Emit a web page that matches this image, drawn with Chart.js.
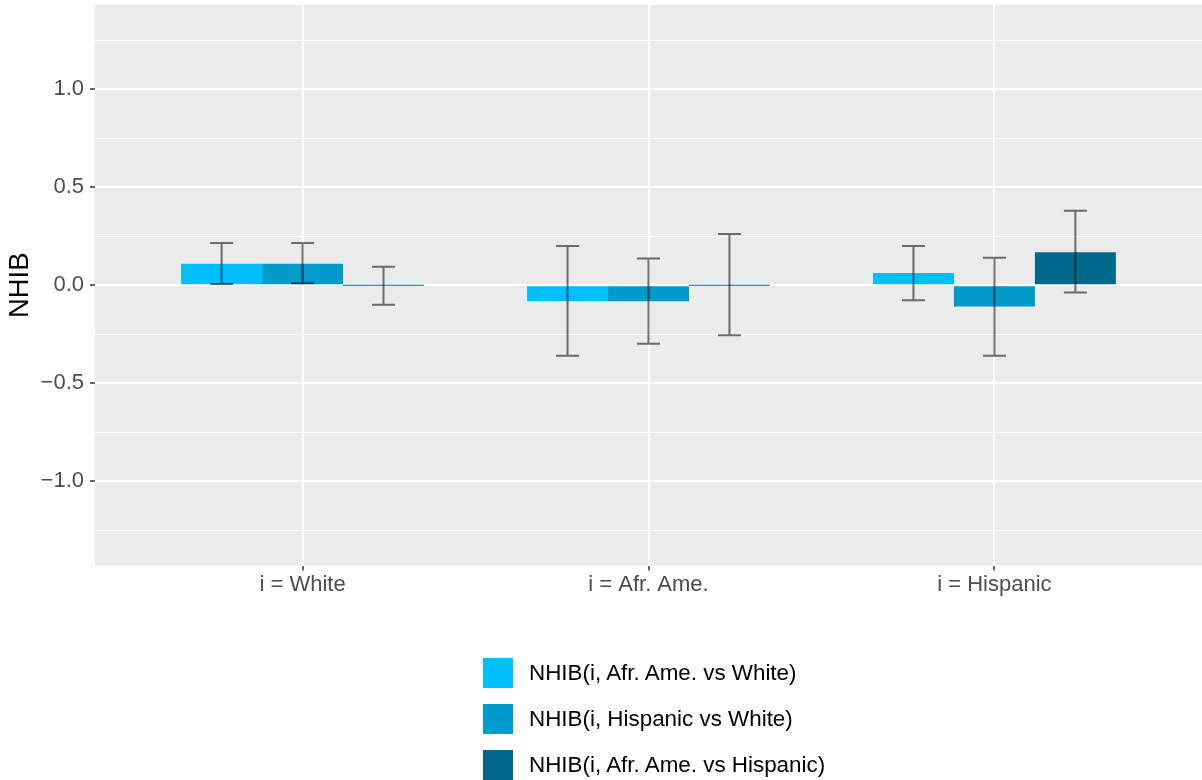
<!DOCTYPE html>
<html>
<head>
<meta charset="utf-8">
<script src="https://cdn.jsdelivr.net/npm/chart.js@4.4.1/dist/chart.umd.min.js"></script>
<style>
  body { margin: 0; background: #fff; }
  #wrap { position: relative; width: 1202px; height: 780px; }
  #chartBox { position: absolute; left: 0; top: 0; width: 1202px; height: 780px; }
  #legend { position: absolute; left: 483px; top: 658px; font-family: "Liberation Sans", Arial, sans-serif; font-size: 22.4px; color: #000; }
  .item { display: flex; align-items: center; height: 30px; margin-bottom: 16px; }
  .box { width: 30px; height: 30px; margin-right: 16px; }
</style>
</head>
<body>
<div id="wrap">
  <div id="chartBox"><canvas id="nhibChart"></canvas></div>
  <div id="legend"></div>
</div>
<script>
const categories = ['i = White', 'i = Afr. Ame.', 'i = Hispanic'];
const seriesNames = ['NHIB(i, Afr. Ame. vs White)', 'NHIB(i, Hispanic vs White)', 'NHIB(i, Afr. Ame. vs Hispanic)'];
const seriesColors = ['#00BFFF', '#009ACD', '#00688B'];

// bar heights
const afrVsWhite = [0.11, -0.082, 0.063];
const hispVsWhite = [0.11, -0.082, -0.108];
const afrVsHisp = [0, 0, 0.169];

// error bar ends
const afrVsWhiteLo = [0.007, -0.36, -0.077];
const afrVsWhiteHi = [0.216, 0.2, 0.2];
const hispVsWhiteLo = [0.01, -0.298, -0.36];
const hispVsWhiteHi = [0.216, 0.137, 0.14];
const afrVsHispLo = [-0.1, -0.255, -0.037];
const afrVsHispHi = [0.095, 0.262, 0.38];

const yMajor = [-1, -0.5, 0, 0.5, 1];
const yMajorLabels = ['\u22121.0', '\u22120.5', '0.0', '0.5', '1.0'];
const yMinor = [-1.25, -0.75, -0.25, 0.25, 0.75, 1.25];

Chart.defaults.font.family = '"Liberation Sans", Arial, sans-serif';

const toPoints = vals => vals.map((v, i) => ({ x: i + 1, y: v }));
const isMajor = v => yMajor.some(m => Math.abs(m - v) < 1e-9);

const panelBg = {
    id: 'panelBg',
    beforeDraw(chart) {
        const { ctx, chartArea: a } = chart;
        ctx.save();
        ctx.fillStyle = '#EBEBEB';
        ctx.fillRect(a.left, a.top, a.right - a.left, a.bottom - a.top);
        ctx.restore();
    }
};

const errorBars = {
    id: 'errorBars',
    afterDatasetsDraw(chart) {
        const { ctx } = chart;
        const y = chart.scales.y;
        ctx.save();
        ctx.strokeStyle = 'rgba(0,0,0,0.55)';
        ctx.lineWidth = 2;
        chart.data.datasets.forEach((ds, di) => {
            chart.getDatasetMeta(di).data.forEach((bar, i) => {
                const x = bar.x;
                const top = y.getPixelForValue(ds.hi[i]);
                const bot = y.getPixelForValue(ds.lo[i]);
                ctx.beginPath();
                ctx.moveTo(x, top); ctx.lineTo(x, bot);
                ctx.moveTo(x - 11.5, top); ctx.lineTo(x + 11.5, top);
                ctx.moveTo(x - 11.5, bot); ctx.lineTo(x + 11.5, bot);
                ctx.stroke();
            });
        });
        ctx.restore();
    }
};

const ctx = document.getElementById('nhibChart').getContext('2d');
const nhibChart = new Chart(ctx, {
    type: 'bar',
    data: {
        datasets: [
            { label: seriesNames[0], data: toPoints(afrVsWhite), backgroundColor: seriesColors[0], lo: afrVsWhiteLo, hi: afrVsWhiteHi },
            { label: seriesNames[1], data: toPoints(hispVsWhite), backgroundColor: seriesColors[1], lo: hispVsWhiteLo, hi: hispVsWhiteHi },
            { label: seriesNames[2], data: toPoints(afrVsHisp), backgroundColor: seriesColors[2], lo: afrVsHispLo, hi: afrVsHispHi }
        ]
    },
    options: {
        responsive: true,
        maintainAspectRatio: false,
        animation: false,
        events: [],
        categoryPercentage: 0.702,
        barPercentage: 1.0,
        minBarLength: 1,
        layout: { padding: { top: 5, right: 0, bottom: 0, left: 0 } },
        scales: {
            x: {
                type: 'linear',
                min: 0.4,
                max: 3.6,
                offset: false,
                afterBuildTicks: s => { s.ticks = categories.map((c, i) => ({ value: i + 1 })); },
                afterFit: s => { s.height = 214.5; s.paddingLeft = 0; s.paddingRight = 0; },
                ticks: {
                    callback: v => categories[Math.round(v) - 1],
                    color: '#4D4D4D',
                    font: { size: 22 },
                    padding: 1,
                    maxRotation: 0,
                    autoSkip: false
                },
                grid: {
                    offset: false,
                    color: '#FFFFFF',
                    lineWidth: 2,
                    tickLength: 5,
                    tickColor: '#333333',
                    tickWidth: 1.5
                },
                border: { display: false }
            },
            y: {
                min: -1.43,
                max: 1.43,
                afterBuildTicks: s => { s.ticks = yMinor.concat(yMajor).sort((a, b) => a - b).map(v => ({ value: v })); },
                afterFit: s => { s.width = 95; s.paddingTop = 0; s.paddingBottom = 0; },
                ticks: {
                    callback: v => isMajor(v) ? yMajorLabels[yMajor.findIndex(m => Math.abs(m - v) < 1e-9)] : '',
                    color: '#4D4D4D',
                    font: { size: 22 },
                    padding: 6,
                    autoSkip: false
                },
                grid: {
                    color: '#FFFFFF',
                    lineWidth: c => isMajor(c.tick.value) ? 2 : 1,
                    tickLength: 5,
                    tickColor: c => isMajor(c.tick.value) ? '#333333' : 'rgba(0,0,0,0)',
                    tickWidth: 1.5
                },
                border: { display: false },
                title: {
                    display: true,
                    text: 'NHIB',
                    color: '#000000',
                    font: { size: 27.5 },
                    padding: { top: 4, bottom: 0 }
                }
            }
        },
        plugins: {
            legend: { display: false },
            tooltip: { enabled: false }
        }
    },
    plugins: [panelBg, errorBars]
});

// legend built from the chart's datasets
const legendEl = document.getElementById('legend');
nhibChart.data.datasets.forEach(ds => {
    const item = document.createElement('div');
    item.className = 'item';
    const box = document.createElement('div');
    box.className = 'box';
    box.style.background = ds.backgroundColor;
    const txt = document.createElement('span');
    txt.textContent = ds.label;
    item.appendChild(box);
    item.appendChild(txt);
    legendEl.appendChild(item);
});
</script>
</body>
</html>
